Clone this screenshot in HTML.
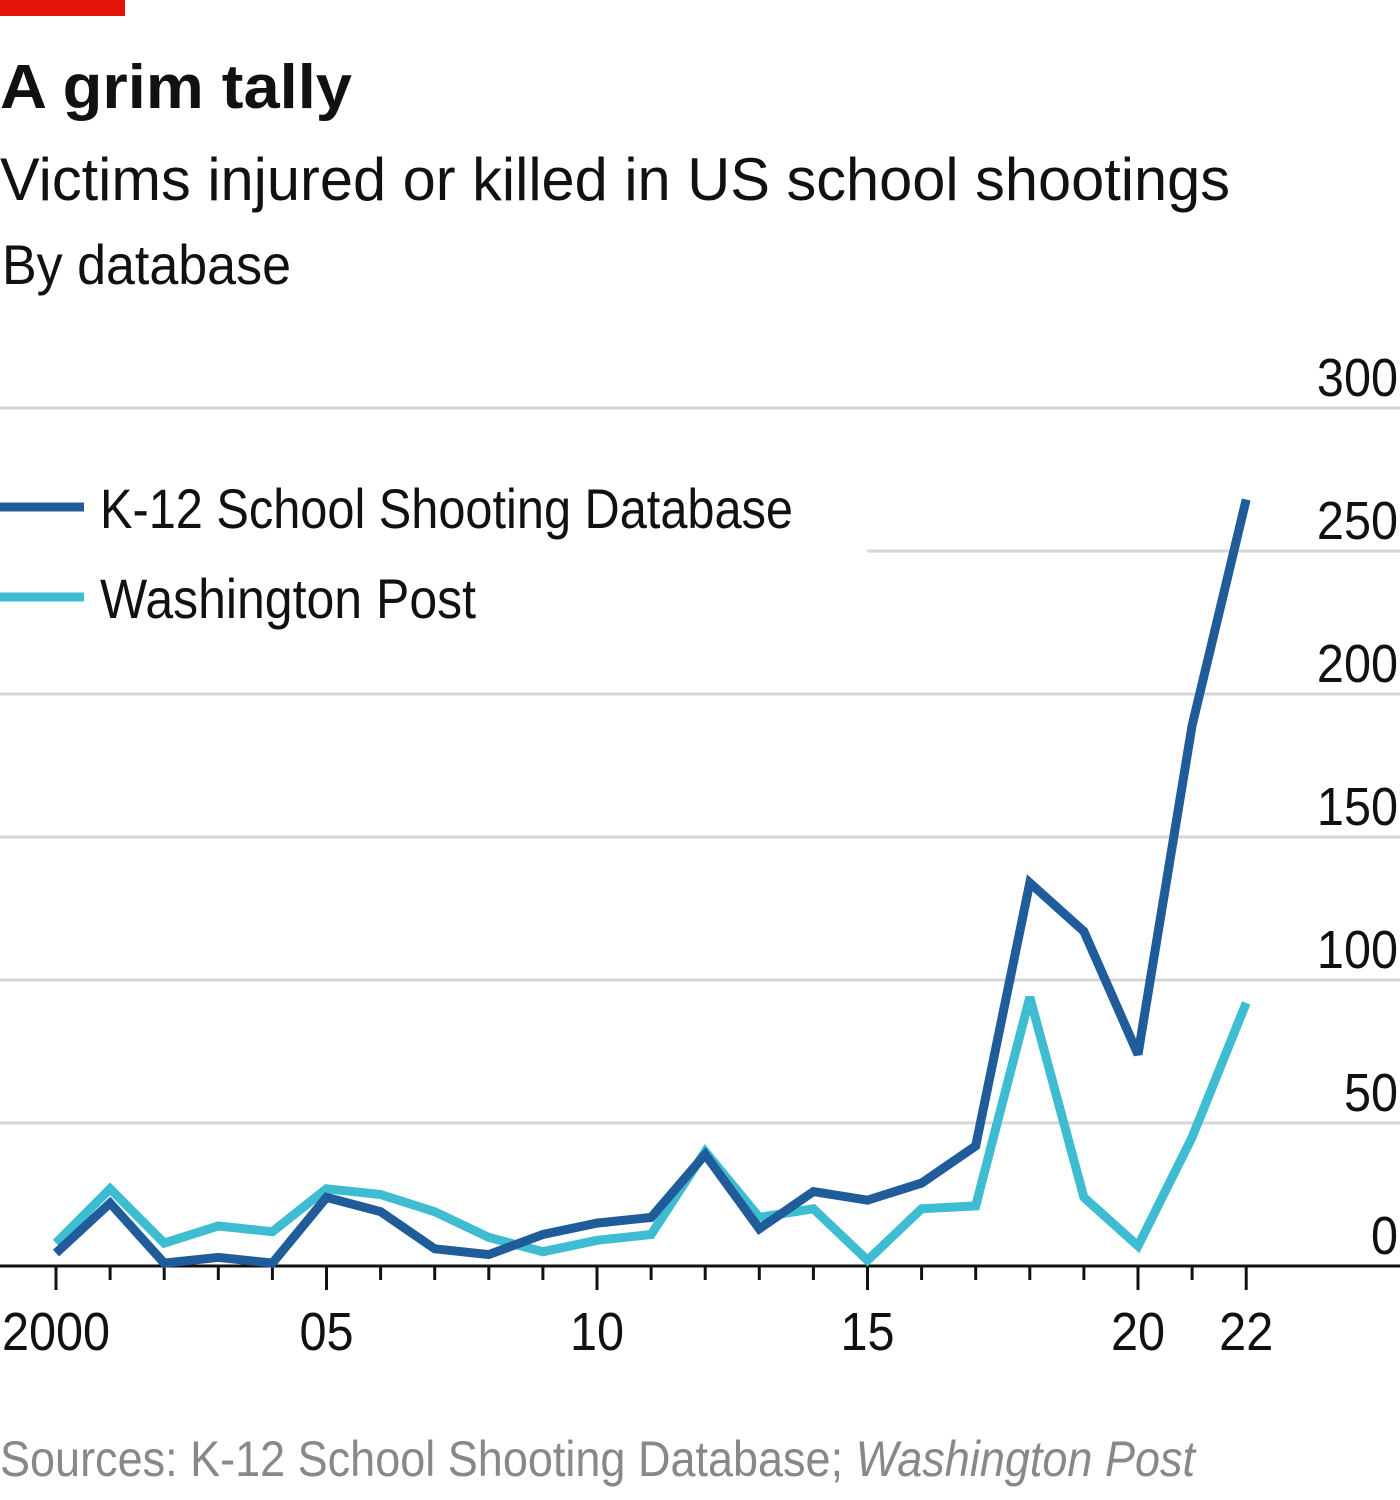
<!DOCTYPE html>
<html><head><meta charset="utf-8"><style>
html,body{margin:0;padding:0;background:#fff;width:1400px;height:1500px;overflow:hidden}
svg{display:block}
text{font-family:"Liberation Sans Narrow","Liberation Sans",sans-serif;fill:#111}
</style></head><body>
<svg id="chart" width="1400" height="1500" viewBox="0 0 1400 1500">
<rect x="0" y="0" width="125" height="16" fill="#e3120b"/>
<text x="0" y="108" font-size="62" font-weight="bold" textLength="352" lengthAdjust="spacingAndGlyphs">A grim tally</text>
<text x="0" y="200" font-size="60" textLength="1230" lengthAdjust="spacingAndGlyphs">Victims injured or killed in US school shootings</text>
<text x="2" y="284" font-size="56" textLength="289" lengthAdjust="spacingAndGlyphs">By database</text>
<g id="grid"></g><g id="axis"></g><g id="lines"></g>
<g>
<line x1="0" y1="507" x2="84" y2="507" stroke="#1f5c99" stroke-width="9"/>
<text x="100" y="528" font-size="56" textLength="693" lengthAdjust="spacingAndGlyphs">K-12 School Shooting Database</text>
<line x1="0" y1="597" x2="84" y2="597" stroke="#3ebcd2" stroke-width="9"/>
<text x="100" y="618" font-size="56" textLength="376" lengthAdjust="spacingAndGlyphs">Washington Post</text>
</g>
<text x="0" y="1476" font-size="50" textLength="1195" lengthAdjust="spacingAndGlyphs" style="fill:#888">Sources: K-12 School Shooting Database; <tspan font-style="italic" style="fill:#888">Washington Post</tspan></text>
</svg>
<script>
const years=[2000,2001,2002,2003,2004,2005,2006,2007,2008,2009,2010,2011,2012,2013,2014,2015,2016,2017,2018,2019,2020,2021,2022];
const k12=[4.5,22,1,3,1,24,19,6,4,11,15,17,39,13,26,23,29,42,134,117,74,189,268];
const wapo=[8,27,8,14,12,27,25,19,10,5,9,11,40,17,20,2,20,21,94,24,7,45,92];
const yTicks=[0,50,100,150,200,250,300];
const xLabelYears=[2000,2005,2010,2015,2020,2022];
const xLabelText=["2000","05","10","15","20","22"];
const NS="http://www.w3.org/2000/svg";
const x=v=>56+(v-2000)*54.1;
const y=v=>1266-v*2.86;
function mk(tag,attrs,parent,txt){const e=document.createElementNS(NS,tag);for(const k in attrs)e.setAttribute(k,attrs[k]);if(txt!==undefined)e.textContent=txt;parent.appendChild(e);return e;}
const grid=document.getElementById('grid'),axis=document.getElementById('axis'),lines=document.getElementById('lines');
yTicks.forEach(t=>{
 if(t>0){const g=mk('line',{x1:t===250?867:0,x2:1400,y1:y(t),y2:y(t),stroke:'#d6d6d6','stroke-width':3},grid);
 
 }
 const l=mk('text',{x:1398,y:y(t)-12,'font-size':54,'text-anchor':'end',transform:'translate(1398,0) scale(0.9,1) translate(-1398,0)'},grid,String(t));
 
 
});
const base=mk('line',{x1:0,x2:1400,y1:y(0),y2:y(0),stroke:'#111','stroke-width':3},axis);


years.forEach(yr=>{
 const big=xLabelYears.includes(yr);
 const t=mk('line',{x1:x(yr),x2:x(yr),y1:y(0),y2:y(0)+(big?24:14),stroke:'#111','stroke-width':3},axis);
 
 
});
xLabelYears.forEach((yr,i)=>{
 const cx=x(yr);
 const l=mk('text',{x:cx,y:1350,'font-size':54,'text-anchor':'middle',transform:'translate('+cx+',0) scale(0.9,1) translate('+(-cx)+',0)'},axis,xLabelText[i]);
 
 
});
function series(vals,color,name){
 const d=vals.map((v,i)=>(i?'L':'M')+x(years[i]).toFixed(1)+','+y(v).toFixed(1)).join(' ');
 const p=mk('path',{d:d,fill:'none',stroke:color,'stroke-width':9,'stroke-linejoin':'miter','stroke-miterlimit':3},lines);
 
 
}
series(wapo,'#3ebcd2','line-washington-post');
series(k12,'#1f5c99','line-k12-database');
</script>
</body></html>
